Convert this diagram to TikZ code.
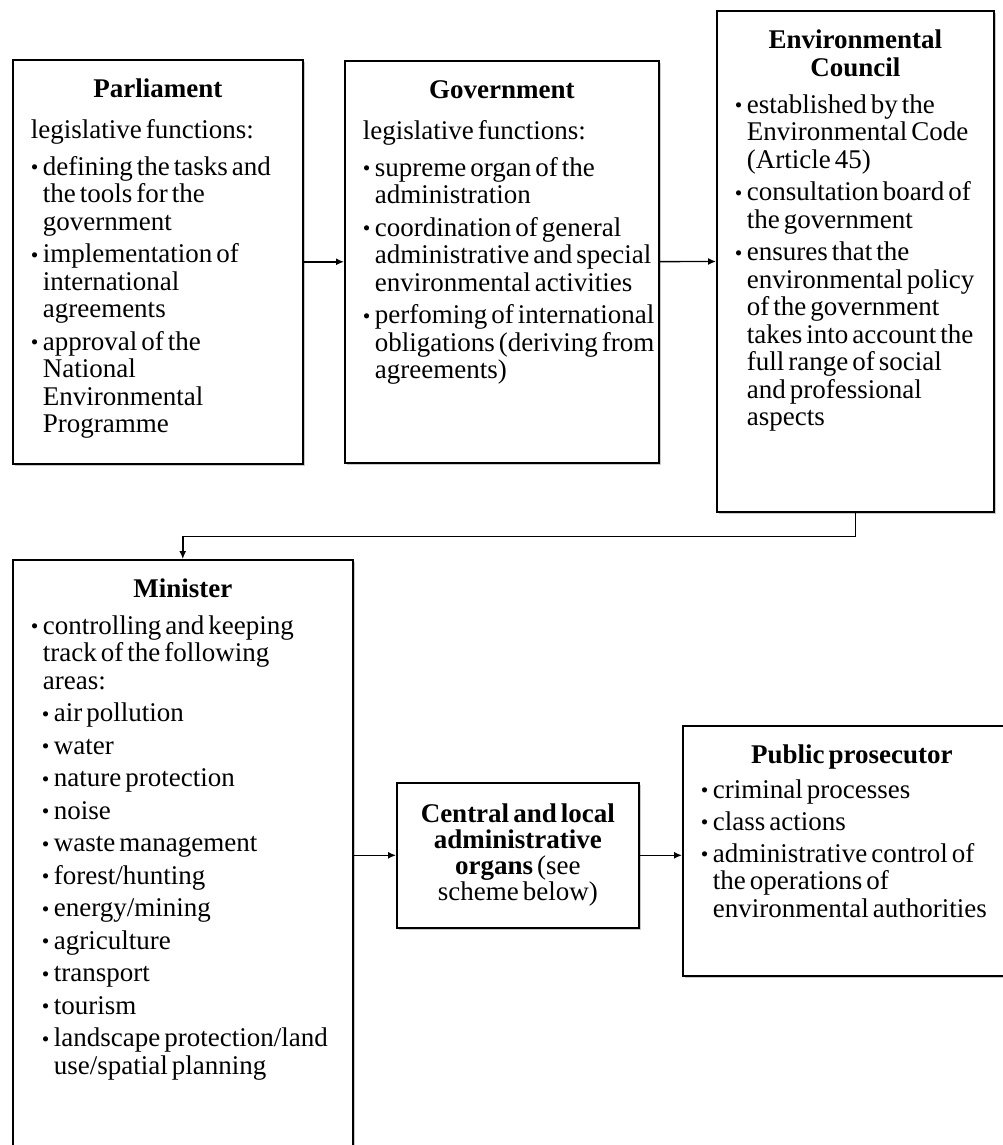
\documentclass[tikz,border=0pt]{standalone}
\usepackage{fontspec}
\setmainfont{Liberation Serif}[WordSpace=0.6]
\usetikzlibrary{arrows.meta, shadows}

% bullet items inside the boxes
\newcommand{\bul}{\makebox[12pt][l]{\raisebox{0.5pt}{\scalebox{0.8}{\textbullet}}}}
\newcommand{\itm}[2][5pt]{\par\vspace{#1}\hangindent=12pt\hangafter=1\noindent\bul#2}
\newcommand{\subitm}[1]{\par\vspace{5pt}\hangindent=23pt\hangafter=1\noindent\hspace*{11pt}\bul#1}
\newcommand{\boxbody}[4]{\parbox[t][#2][t]{#1}{\centering\rule{0pt}{38pt}\textbf{#3}\par
    \raggedright\leftskip=8pt\rightskip=-20pt plus 1fil #4}}

\begin{document}
\begin{tikzpicture}[x=1pt, y=-1pt,
    box/.style={draw, rectangle, line width=1.6pt, fill=white, anchor=north west,
        inner xsep=10pt, inner ysep=0pt, font=\fontsize{27}{27.5}\selectfont,
        drop shadow={shadow xshift=2.5pt, shadow yshift=-2.5pt, opacity=0.35, fill=black!60}},
    arr/.style={-{Latex[length=8pt,width=7pt]}, line width=1.4pt}]
    \useasboundingbox (0,0) rectangle (1003,1145);

    \node (parl) [box] at (12,59) {\boxbody{270pt}{404pt}{Parliament}{\vspace{13.5pt}legislative functions:
        \itm[9pt]{defining the tasks and\newline the tools for the\newline government}
        \itm{implementation of\newline international\newline agreements}
        \itm{approval of the\newline National\newline Environmental\newline Programme}}};
    \node (gov) [box] at (344,60) {\boxbody{294pt}{402pt}{Government}{\vspace{13.5pt}legislative functions:
        \itm[9pt]{supreme organ of the\newline administration}
        \itm{coordination of  general\newline administrative and special\newline environmental activities}
        \itm{perfoming of international\newline obligations (deriving from\newline agreements)}}};
    \node (env) [box] at (716,10) {\boxbody{257pt}{501pt}{Environmental\\ Council}{%
        \itm[9.5pt]{established by the\newline Environmental Code\newline (Article 45)}
        \itm{consultation board of\newline the government}
        \itm{ensures that the\newline environmental policy\newline of the government\newline takes into account the\newline full range of social\newline and professional\newline aspects}}};
    \node (min) [box] at (12,559) {\boxbody{320pt}{620pt}{Minister}{%
        \itm[9pt]{controlling and keeping\newline track of the following\newline areas:}
        \subitm{air pollution}
        \subitm{water}
        \subitm{nature protection}
        \subitm{noise}
        \subitm{waste management}
        \subitm{forest/hunting}
        \subitm{energy/mining}
        \subitm{agriculture}
        \subitm{transport}
        \subitm{tourism}
        \subitm{landscape protection/land\newline use/spatial planning}}};
    \node (cen) [box, inner sep=0pt, minimum width=242pt, minimum height=145pt, align=center,
        font=\fontsize{27}{26}\selectfont]
        at (396,782) {\textbf{Central and local}\\ \textbf{administrative}\\ \textbf{organs} (see\\ scheme below)};
    \node (pub) [box] at (682,725) {\boxbody{318pt}{250pt}{Public prosecutor}{%
        \itm[7pt]{criminal processes}
        \itm[4.5pt]{class actions}
        \itm[4.5pt]{administrative control of\newline the operations of\newline environmental authorities}}};

    \draw[arr] (parl) -- (gov);
    \draw[arr] (gov) -- (env);
    \draw[arr] (env.south) -- ++(0,24) -| (min.north);
    \draw[arr] (min.east |- cen) -- (cen);
    \draw[arr] (cen) -- (pub.west |- cen);
\end{tikzpicture}
\end{document}
